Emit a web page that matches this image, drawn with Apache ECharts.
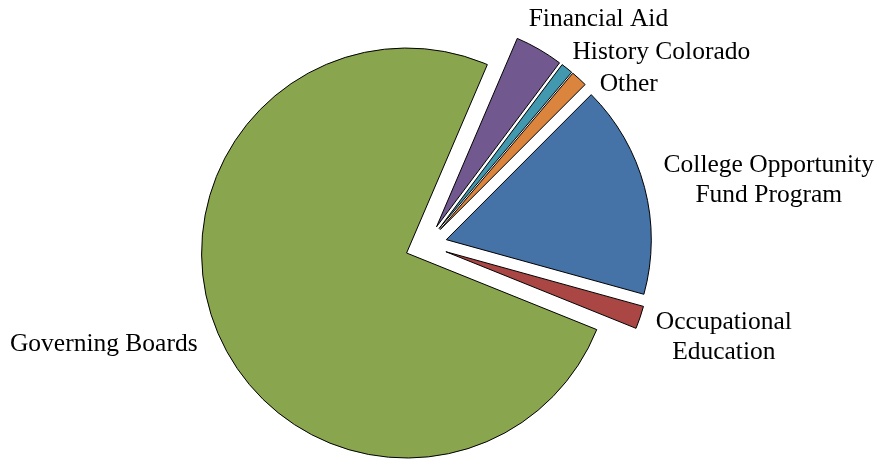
<!DOCTYPE html>
<html>
<head>
<meta charset="utf-8">
<script src="https://cdn.jsdelivr.net/npm/echarts@6/dist/echarts.min.js"></script>
<style>
  html, body { margin: 0; padding: 0; background: #fff; }
  #chart { width: 882px; height: 462px; }
</style>
</head>
<body>
<div id="chart"></div>
<script>
// Share of the budget by line item (percent), clockwise from Financial Aid
const categories = [
  'Financial Aid',
  'History Colorado',
  'Other',
  'College Opportunity\nFund Program',
  'Occupational\nEducation',
  'Governing Boards'
];
const shares = [3.8, 0.95, 1.3, 16.8, 1.8, 75.35];
const colors = ['#71588F', '#4198AF', '#DB843D', '#4572A7', '#AA4643', '#89A54E'];

// Per-slice label placement (label line is hidden; lengths only steer the text)
const labelLines = [
  { length: 35, length2: -33 },
  { length: 20, length2: -12 },
  { length: -8, length2: 21 },
  { length: 29, length2: -14 },
  { length: 61, length2: -47 },
  { length: 33, length2: -16 }
];

const chart = echarts.init(document.getElementById('chart'), null, { renderer: 'canvas' });

const data = categories.map((name, i) => ({
  name: name,
  value: shares[i],
  selected: true,
  itemStyle: { color: colors[i] },
  labelLine: { show: false, length: labelLines[i].length, length2: labelLines[i].length2 }
}));

chart.setOption({
  backgroundColor: '#ffffff',
  animation: false,
  series: [{
    type: 'pie',
    center: [426, 245],
    radius: 205,
    startAngle: 66.8,
    clockwise: true,
    selectedMode: 'multiple',
    selectedOffset: 21,
    avoidLabelOverlap: false,
    itemStyle: { borderColor: '#000', borderWidth: 1 },
    emphasis: { disabled: true },
    select: { disabled: false, itemStyle: { borderColor: '#000', borderWidth: 1 } },
    label: {
      show: true,
      position: 'outside',
      formatter: '{t|{b}}',
      overflow: 'none',
      color: '#000',
      rich: {
        t: {
          align: 'center',
          fontFamily: 'Liberation Serif',
          fontSize: 25.5,
          lineHeight: 30,
          color: '#000'
        }
      }
    },
    labelLine: { show: false },
    data: data
  }]
});
</script>
</body>
</html>
